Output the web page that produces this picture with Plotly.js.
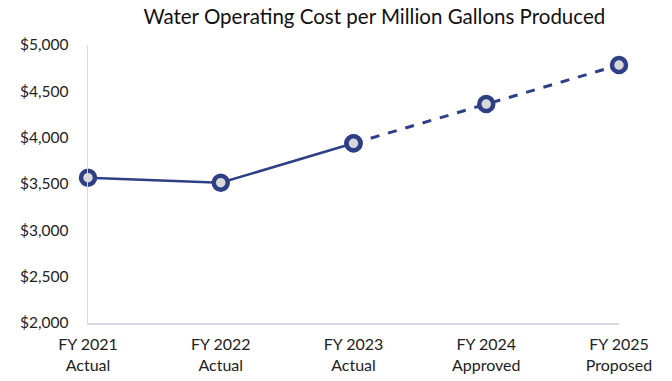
<!DOCTYPE html>
<html>
<head>
<meta charset="utf-8">
<script src="https://cdn.plot.ly/plotly-3.0.1.min.js"></script>
<style>html,body{margin:0;padding:0;background:#fff;}#chart{width:672px;height:381px;}</style>
</head>
<body>
<div id="chart"></div>
<script>
const categories = ["FY 2021<br>Actual", "FY 2022<br>Actual", "FY 2023<br>Actual", "FY 2024<br>Approved", "FY 2025<br>Proposed"];
const costPerMG = [3568, 3514, 3939, 4363, 4784];
const actualCount = 3;
const yTickVals = [2000, 2500, 3000, 3500, 4000, 4500, 5000];
const yTickText = ["$2,000", "$2,500", "$3,000", "$3,500", "$4,000", "$4,500", "$5,000"];

const navy = "#2e3f85";
const marker = {size: 14, color: "#d9d9d9", line: {color: navy, width: 4.5}};

const actualX = categories.slice(0, actualCount);
const actualY = costPerMG.slice(0, actualCount);
const projX = categories.slice(actualCount - 1);
const projY = costPerMG.slice(actualCount - 1);

const traces = [
  {x: projX, y: projY, type: "scatter", mode: "lines+markers",
   line: {color: navy, width: 3, dash: "dash"}, marker: marker, cliponaxis: false, hoverinfo: "none"},
  {x: actualX, y: actualY, type: "scatter", mode: "lines+markers",
   line: {color: navy, width: 2.5}, marker: marker, cliponaxis: false, hoverinfo: "none"}
];

const layout = {
  width: 672, height: 381,
  margin: {l: 88, r: 53, t: 45, b: 58},
  showlegend: false,
  paper_bgcolor: "#fff", plot_bgcolor: "#fff",
  font: {family: "Lato, 'Open Sans', sans-serif", color: "#222", size: 15},
  title: {text: "Water Operating Cost per Million Gallons Produced",
          font: {size: 20.5, color: "#111"}, x: 0.557, xref: "container", xanchor: "center",
          y: 0.955, yref: "container", yanchor: "middle"},
  xaxis: {type: "category", categoryorder: "array", categoryarray: categories,
          range: [0, 4], showgrid: false, zeroline: false,
          showline: true, linecolor: "#d6dae6", linewidth: 1.5,
          ticks: "outside", ticklen: 6, tickcolor: "rgba(0,0,0,0)",
          tickfont: {size: 16, color: "#222"}, fixedrange: true},
  yaxis: {range: [2000, 5000], tickvals: yTickVals, ticktext: yTickText,
          showgrid: false, zeroline: false,
          showline: true, linecolor: "#d6dae6", linewidth: 1.5,
          ticks: "outside", ticklen: 15, tickcolor: "rgba(0,0,0,0)",
          tickfont: {size: 15.5, color: "#222"}, fixedrange: true}
};

Plotly.newPlot("chart", traces, layout, {displayModeBar: false, staticPlot: true});
</script>
</body>
</html>
